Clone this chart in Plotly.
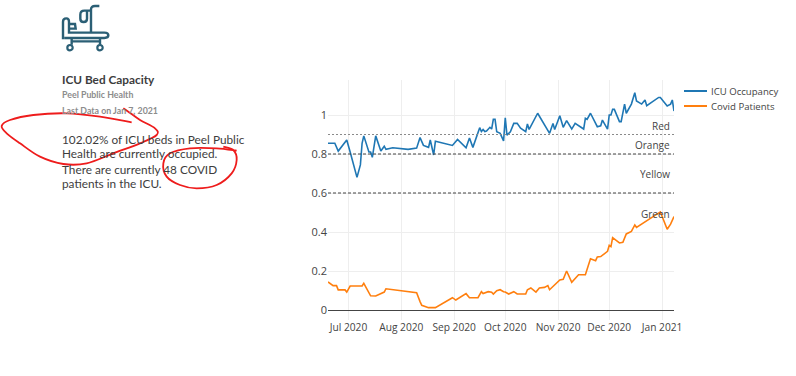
import plotly.graph_objects as go

W, H = 796, 376

occ_dates = ["2020-06-19","2020-06-23","2020-06-25","2020-06-30","2020-07-02","2020-07-06","2020-07-08","2020-07-09","2020-07-10","2020-07-13","2020-07-14","2020-07-15","2020-07-17","2020-07-20","2020-07-22","2020-07-23","2020-07-27","2020-08-05","2020-08-10","2020-08-12","2020-08-14","2020-08-17","2020-08-18","2020-08-20","2020-08-21","2020-08-31","2020-09-03","2020-09-08","2020-09-10","2020-09-12","2020-09-16","2020-09-17","2020-09-18","2020-09-19","2020-09-20","2020-09-22","2020-09-23","2020-09-24","2020-09-25","2020-09-26","2020-09-28","2020-09-30","2020-10-01","2020-10-02","2020-10-04","2020-10-06","2020-10-08","2020-10-10","2020-10-13","2020-10-14","2020-10-15","2020-10-20","2020-10-27","2020-10-29","2020-10-30","2020-11-02","2020-11-04","2020-11-06","2020-11-09","2020-11-11","2020-11-16","2020-11-17","2020-11-18","2020-11-20","2020-11-24","2020-11-26","2020-11-27","2020-11-30","2020-12-01","2020-12-02","2020-12-03","2020-12-04","2020-12-07","2020-12-08","2020-12-10","2020-12-11","2020-12-14","2020-12-16","2020-12-17","2020-12-20","2020-12-22","2020-12-23","2020-12-30","2020-12-31","2021-01-04","2021-01-06","2021-01-07","2021-01-08"]
occ_values = [.855,.855,.815,.872,.81,.68,.744,.855,.893,.81,.81,.783,.893,.815,.84,.824,.832,.824,.83,.884,.844,.834,.872,.795,.865,.844,.875,.832,.882,.834,.935,.915,.926,.915,.918,.937,.928,.978,.978,.914,.906,.867,.986,.897,.914,.957,.957,.932,.914,.954,.926,1.009,.906,.957,.926,.996,.937,.971,.928,.957,.928,.983,.978,1.009,.94,.945,.974,.928,1.0,1.0,1.029,1.029,.966,.966,1.056,1.009,1.056,1.114,1.072,1.056,1.077,1.048,1.09,1.09,1.046,1.056,1.077,1.0202]

cov_dates = ["2020-06-19","2020-06-22","2020-06-24","2020-06-25","2020-06-29","2020-06-30","2020-07-02","2020-07-09","2020-07-10","2020-07-14","2020-07-17","2020-07-20","2020-07-22","2020-07-23","2020-08-10","2020-08-12","2020-08-13","2020-08-17","2020-08-21","2020-08-31","2020-09-02","2020-09-08","2020-09-10","2020-09-15","2020-09-17","2020-09-18","2020-09-21","2020-09-23","2020-09-24","2020-09-26","2020-09-28","2020-09-30","2020-10-01","2020-10-03","2020-10-06","2020-10-08","2020-10-13","2020-10-14","2020-10-16","2020-10-19","2020-10-21","2020-10-24","2020-10-26","2020-10-27","2020-10-31","2020-11-02","2020-11-04","2020-11-06","2020-11-09","2020-11-13","2020-11-17","2020-11-18","2020-11-20","2020-11-23","2020-11-24","2020-11-26","2020-11-30","2020-12-01","2020-12-02","2020-12-03","2020-12-07","2020-12-09","2020-12-11","2020-12-14","2020-12-16","2020-12-17","2020-12-22","2020-12-27","2020-12-31","2021-01-04","2021-01-06","2021-01-08"]
cov_values = [.144,.125,.125,.103,.103,.092,.123,.123,.137,.073,.072,.082,.092,.109,.089,.043,.024,.012,.012,.063,.051,.084,.063,.063,.094,.084,.094,.091,.082,.099,.104,.094,.092,.082,.094,.082,.082,.104,.113,.092,.113,.116,.125,.104,.137,.154,.157,.2,.142,.181,.181,.209,.263,.253,.272,.274,.301,.332,.325,.371,.344,.347,.39,.403,.436,.424,.453,.482,.503,.414,.44,.479]

series_names = ["ICU Occupancy", "Covid Patients"]
series_colors = ["#1f77b4", "#ff7f0e"]
thresholds = [0.9, 0.8, 0.6]
threshold_colors = ["#8a8a8a", "#444444", "#444444"]
zone_labels = ["Red", "Orange", "Yellow", "Green"]
zone_label_y = [0.945, 0.845, 0.695, 0.49]
tick_vals = ["2020-07-01","2020-08-01","2020-09-01","2020-10-01","2020-11-01","2020-12-01","2021-01-01"]
tick_text = ["Jul 2020","Aug 2020","Sep 2020","Oct 2020","Nov 2020","Dec 2020","Jan 2021"]
left_lines = ["102.02% of ICU beds in Peel Public", "Health are currently occupied.", "There are currently 48 COVID", "patients in the ICU."]

FONT = "Open Sans, verdana, arial, sans-serif"
LATO = "Lato, sans-serif"
ICON = "#2b5f75"
RED = "#ee1c1c"

def X(px): return px / W
def Y(py): return 1 - py / H

fig = go.Figure()
fig.add_trace(go.Scatter(x=occ_dates, y=occ_values, name=series_names[0], mode="lines", line=dict(color=series_colors[0], width=1.6)))
fig.add_trace(go.Scatter(x=cov_dates, y=cov_values, name=series_names[1], mode="lines", line=dict(color=series_colors[1], width=1.6)))

shapes = []
for t, c in zip(thresholds, threshold_colors):
    shapes.append(dict(type="line", xref="x domain", x0=0, x1=1, yref="y", y0=t, y1=t,
                       line=dict(color=c, width=1.2, dash="2px,2px" if t == 0.9 else "3px,2px")))

def smooth(pts):
    P = [pts[0]] + pts + [pts[-1]]
    f = lambda p: f"{X(p[0]):.5f},{Y(p[1]):.5f}"
    d = "M" + f(pts[0])
    for i in range(1, len(P) - 2):
        p0, p1, p2, p3 = P[i-1], P[i], P[i+1], P[i+2]
        c1 = (p1[0] + (p2[0]-p0[0])/6, p1[1] + (p2[1]-p0[1])/6)
        c2 = (p2[0] - (p3[0]-p1[0])/6, p2[1] - (p3[1]-p1[1])/6)
        d += f" C{f(c1)} {f(c2)} {f(p2)}"
    return d

def z1(pts):
    return [(x/3, y/3) for x, y in pts]

scribble_a = z1([(395,367),(300,350),(200,340),(100,345),(30,360),(5,378),(20,400),(60,430),(120,470),(190,492),(260,490),(340,460),(420,430),(470,405),(465,385),(420,360),(385,335),(370,325)])
scribble_b = z1([(710,452),(650,445),(570,445),(510,460),(490,490),(500,530),(540,555),(590,565),(650,555),(695,520),(710,480),(700,450),(670,440)])
for s in (scribble_a, scribble_b):
    shapes.append(dict(type="path", xref="paper", yref="paper", path=smooth(s), line=dict(color=RED, width=1.8), layer="above"))

def ic(x, y):
    return f"{X(55+x/3):.5f},{Y(y/3):.5f}"

icon_paths = [
    f"M{ic(24,118)} L{ic(24,65)} Q{ic(24,55)} {ic(34,55)} Q{ic(42,55)} {ic(42,65)} L{ic(42,98)} L{ic(148,98)} Q{ic(160,98)} {ic(160,106)} Q{ic(160,114)} {ic(148,114)} L{ic(28,114)}",
    f"M{ic(42,72)} L{ic(60,72)} L{ic(62,86)} L{ic(42,86)}",
    f"M{ic(50,116)} L{ic(50,134)} M{ic(135,116)} L{ic(135,134)} M{ic(50,124)} L{ic(135,124)}",
    f"M{ic(108,97)} L{ic(108,28)} Q{ic(108,18)} {ic(120,18)} L{ic(133,18)}",
    f"M{ic(108,32)} L{ic(88,32)} Q{ic(76,32)} {ic(76,44)} L{ic(76,56)} Q{ic(76,66)} {ic(86,66)} Q{ic(96,66)} {ic(96,56)} L{ic(96,32)}",
]
for p in icon_paths:
    shapes.append(dict(type="path", xref="paper", yref="paper", path=p, line=dict(color=ICON, width=2.4)))
for cx in (45, 135):
    shapes.append(dict(type="circle", xref="paper", yref="paper", x0=X(55+(cx-8)/3), x1=X(55+(cx+8)/3), y0=Y((143-8)/3), y1=Y((143+8)/3), line=dict(color=ICON, width=2.2)))

ann = []
for lab, yv in zip(zone_labels, zone_label_y):
    ann.append(dict(text=lab, xref="x domain", x=0.994, yref="y", y=yv, xanchor="right", yanchor="middle", showarrow=False, font=dict(family=FONT, size=10, color="#444444")))

def txt(s, x, y, size, color, family=LATO):
    ann.append(dict(text=s, xref="paper", yref="paper", x=X(x), y=Y(y), xanchor="left", yanchor="middle", showarrow=False, xshift=-1, font=dict(family=family, size=size, color=color)))

txt("<b>ICU Bed Capacity</b>", 61, 79, 11.8, "#3d3d3d")
txt("<b>Peel Public Health</b>", 61, 95, 8.8, "#8c8c8c")
txt("<b>Last Data on Jan 7, 2021</b>", 61, 110, 8.8, "#8c8c8c")
for i, line in enumerate(left_lines):
    txt(line, 61, [139, 154, 169, 184][i], 11.8, "#3d3d3d")

for name, col, ly in zip(series_names, series_colors, [91, 106]):
    shapes.append(dict(type="line", xref="paper", yref="paper", x0=X(684), x1=X(707), y0=Y(ly), y1=Y(ly), line=dict(color=col, width=2)))
    txt(name, 710, ly, 9.6, "#444444", FONT)

fig.update_layout(
    width=W, height=H, autosize=False, margin=dict(l=0, r=0, t=0, b=0, autoexpand=False),
    paper_bgcolor="white", plot_bgcolor="white", showlegend=False,
    font=dict(family=FONT, size=10, color="#444444"),
    shapes=shapes, annotations=ann,
    xaxis=dict(domain=[X(328), X(674)], anchor="y", range=["2020-06-19", "2021-01-08"], tickvals=tick_vals, ticktext=tick_text,
               showgrid=True, gridcolor="#eeeeee", gridwidth=1, zeroline=False, showline=False, ticks="", tickfont=dict(size=10.2), tickangle=0),
    yaxis=dict(domain=[Y(320), Y(80)], anchor="x", range=[-0.0513, 1.1795], tickvals=[0, .2, .4, .6, .8, 1], ticktext=["0", "0.2", "0.4", "0.6", "0.8", "1"],
               showgrid=True, gridcolor="#eeeeee", gridwidth=1, zeroline=True, zerolinecolor="#444444", zerolinewidth=1, showline=False, ticks="", tickfont=dict(size=11)),
)
fig.write_html("out.html", config=dict(displayModeBar=False), post_script="document.body.style.margin='0';document.documentElement.style.overflow='hidden';")
